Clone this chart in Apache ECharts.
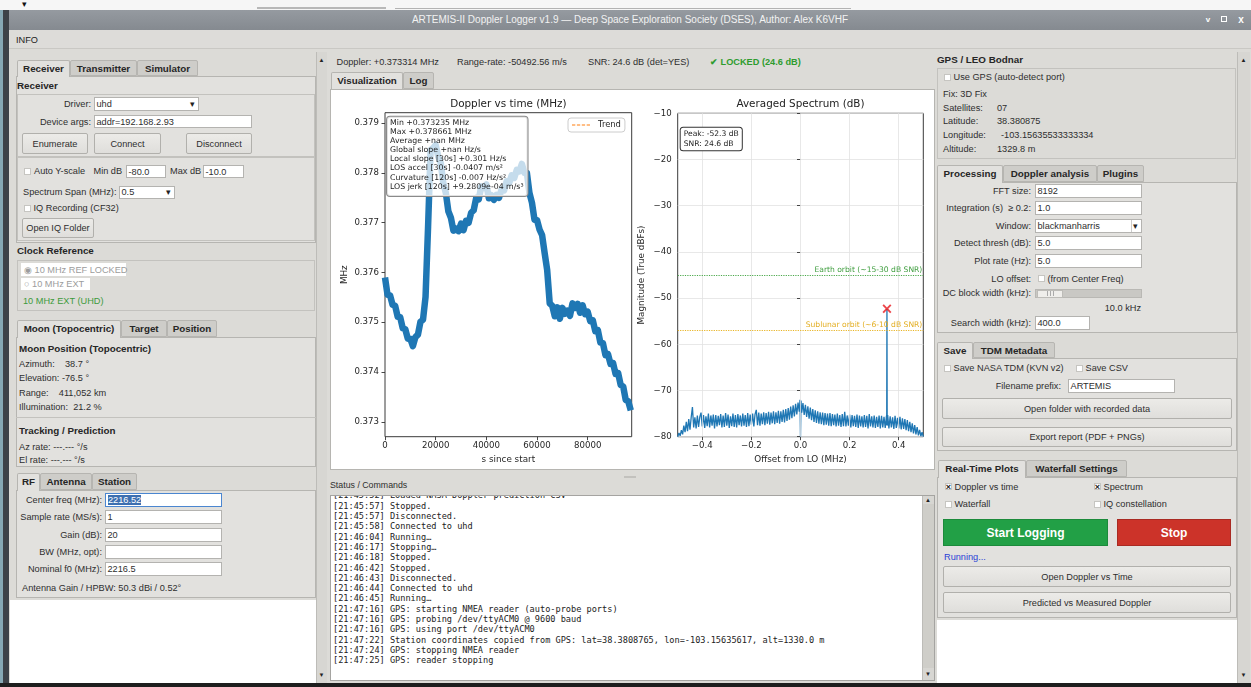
<!DOCTYPE html>
<html><head><meta charset="utf-8"><title>ARTEMIS-II Doppler Logger</title>
<script src="https://cdn.jsdelivr.net/npm/echarts@6/dist/echarts.min.js"></script>
<style>
html,body{margin:0;padding:0}
body{width:1251px;height:687px;position:relative;overflow:hidden;background:#dcdbd7;font-family:"Liberation Sans",Arial,sans-serif;font-size:9.2px;color:#2e2e2e}
.a{position:absolute;box-sizing:border-box}
.t{position:absolute;white-space:pre;line-height:12px;height:12px}
#chart{position:absolute;left:330px;top:89px;width:605px;height:381px}
#log{position:absolute;left:333px;top:496px;width:588px;height:183px;overflow:hidden;font-family:"DejaVu Sans Mono",monospace;font-size:8.6px;line-height:10.33px;color:#222;white-space:pre}
</style></head><body>
<script>
// ================= DATA =================
const dopplerTimeS = [0,1000,2000,3000,4000,5000,6000,7000,8000,9000,10000,11000,12000,13000,14000,15000,16000,17000,18000,19000,20000,21000,22000,23000,24000,25000,26000,27000,28000,29000,30000,31000,32000,33000,34000,35000,36000,37000,38000,39000,40000,41000,42000,43000,44000,45000,46000,47000,48000,49000,50000,51000,52000,53000,54000,55000,56000,57000,58000,59000,60000,61000,62000,63000,64000,65000,66000,67000,68000,69000,70000,71000,72000,73000,74000,75000,76000,77000,78000,79000,80000,81000,82000,83000,84000,85000,86000,87000,88000,89000,90000,91000,92000,93000,94000,95000,96000,97000];
const dopplerMHz = [0.37590,0.37555,0.37554,0.37535,0.37533,0.37511,0.37510,0.37488,0.37486,0.37467,0.37467,0.37452,0.37470,0.37475,0.37501,0.37505,0.37551,0.37692,0.37846,0.37850,0.37856,0.37833,0.37820,0.37780,0.37760,0.37723,0.37710,0.37684,0.37688,0.37683,0.37698,0.37685,0.37704,0.37700,0.37720,0.37725,0.37750,0.37747,0.37773,0.37770,0.37777,0.37749,0.37755,0.37746,0.37756,0.37750,0.37767,0.37765,0.37783,0.37780,0.37795,0.37790,0.37806,0.37803,0.37818,0.37800,0.37800,0.37760,0.37740,0.37706,0.37705,0.37686,0.37675,0.37639,0.37605,0.37538,0.37533,0.37512,0.37530,0.37507,0.37529,0.37517,0.37523,0.37513,0.37538,0.37529,0.37537,0.37519,0.37534,0.37516,0.37521,0.37502,0.37504,0.37482,0.37484,0.37459,0.37458,0.37434,0.37436,0.37416,0.37418,0.37396,0.37398,0.37374,0.37371,0.37344,0.37341,0.37323];
const timeTicksS = [0,20000,40000,60000,80000];
const dopplerTicksMHz = [0.373,0.374,0.375,0.376,0.377,0.378,0.379];
const spectrum = [[-0.500,-80.0],[-0.495,-79.2],[-0.490,-79.8],[-0.485,-78.6],[-0.480,-79.5],[-0.475,-77.6],[-0.470,-79.0],[-0.465,-76.8],[-0.460,-78.8],[-0.455,-76.2],[-0.450,-78.5],[-0.445,-75.8],[-0.440,-73.6],[-0.435,-78.0],[-0.430,-75.8],[-0.425,-78.2],[-0.420,-75.4],[-0.415,-77.9],[-0.410,-75.7],[-0.405,-74.8],[-0.400,-77.8],
[-0.395,-75.3],[-0.390,-78.1],[-0.385,-75.6],[-0.380,-77.7],[-0.375,-75.0],[-0.370,-78.0],[-0.365,-75.4],[-0.360,-77.6],[-0.355,-75.2],[-0.350,-78.2],[-0.345,-75.3],[-0.340,-77.8],[-0.335,-75.5],[-0.330,-77.5],[-0.325,-75.1],[-0.320,-78.0],[-0.315,-75.4],[-0.310,-77.9],[-0.305,-74.9],[-0.300,-77.6],[-0.295,-75.2],[-0.290,-78.1],[-0.285,-75.6],[-0.280,-77.7],[-0.275,-75.0],[-0.270,-77.9],[-0.265,-75.3],[-0.260,-78.0],[-0.255,-75.1],[-0.250,-77.5],[-0.245,-75.4],[-0.240,-77.8],[-0.235,-75.0],[-0.230,-77.6],[-0.225,-75.3],[-0.220,-77.9],[-0.215,-74.9],[-0.210,-77.7],[-0.205,-75.2],[-0.200,-77.4],[-0.195,-75.0],[-0.190,-77.8],[-0.185,-75.1],[-0.180,-74.2],[-0.175,-77.5],[-0.170,-74.8],[-0.165,-77.6],[-0.160,-75.0],[-0.155,-77.3],[-0.150,-74.7],[-0.145,-77.5],[-0.140,-74.9],[-0.135,-77.2],[-0.130,-74.6],[-0.125,-77.4],[-0.120,-74.8],[-0.115,-77.1],[-0.110,-74.5],[-0.105,-77.3],[-0.100,-74.7],[-0.095,-77.0],[-0.090,-74.4],[-0.085,-77.2],[-0.080,-74.5],[-0.075,-76.8],[-0.070,-74.2],[-0.065,-76.9],[-0.060,-74.0],[-0.055,-76.6],[-0.050,-73.8],[-0.045,-76.3],[-0.040,-73.5],[-0.035,-76.0],[-0.030,-73.2],[-0.025,-75.6],[-0.020,-72.9],[-0.015,-75.2],[-0.010,-72.6],[-0.005,-74.6],[-0.002,-72.0],[0.000,-80.0],[0.002,-72.2],[0.005,-74.8],[0.010,-72.7],[0.015,-75.3],[0.020,-73.1],[0.025,-75.7],[0.030,-73.4],[0.035,-76.1],[0.040,-73.7],[0.045,-76.4],[0.050,-74.0],[0.055,-76.8],[0.060,-74.3],[0.065,-77.0],[0.070,-74.5],[0.075,-77.2],[0.080,-74.7],[0.085,-77.3],[0.090,-74.8],[0.095,-77.5],[0.100,-74.9],[0.105,-77.4],[0.110,-75.0],[0.115,-77.6],[0.120,-74.9],[0.125,-77.7],[0.130,-75.1],[0.135,-77.5],[0.140,-75.2],[0.145,-77.8],[0.150,-75.0],[0.155,-77.6],[0.160,-75.3],[0.165,-77.9],[0.170,-75.1],[0.175,-77.7],[0.180,-74.6],[0.185,-77.8],[0.190,-75.4],[0.195,-77.6],[0.200,-75.2],[0.205,-78.0],[0.210,-75.3],[0.215,-77.7],[0.220,-75.5],[0.225,-77.9],[0.230,-75.2],[0.235,-78.1],[0.240,-75.4],[0.245,-77.8],[0.250,-75.6],[0.255,-78.0],[0.260,-75.3],[0.265,-77.9],[0.270,-75.5],[0.275,-78.2],[0.280,-75.1],[0.285,-77.8],[0.290,-75.6],[0.295,-78.0],[0.300,-75.4],[0.305,-78.1],[0.310,-75.7],[0.315,-77.9],[0.320,-75.4],[0.325,-78.2],[0.330,-75.5],[0.335,-78.0],[0.340,-75.7],[0.345,-78.1],[0.350,-75.5],[0.351,-77.5],[0.352,-52.3],[0.353,-77.6],[0.355,-75.3],[0.360,-78.2],[0.365,-75.6],[0.370,-78.0],[0.375,-75.8],[0.380,-78.3],[0.385,-75.5],[0.390,-78.1],[0.395,-75.9],[0.400,-78.2],[0.405,-75.7],[0.410,-78.4],[0.415,-76.0],[0.420,-78.3],[0.425,-76.2],[0.430,-78.6],[0.435,-76.4],[0.440,-78.8],[0.445,-76.8],[0.450,-79.0],[0.455,-77.1],[0.460,-79.3],[0.465,-77.5],[0.470,-79.5],[0.475,-77.9],[0.480,-79.7],[0.485,-78.5],[0.490,-79.9],[0.495,-79.0],[0.500,-80.0]];
const offsetTicksMHz = [-0.4,-0.2,0,0.2,0.4];
const peakOffsetMHz = 0.352;
const peakDb = -52.3;
const snrDb = 24.6;
const earthOrbitDb = -45;
const sublunarOrbitDb = -57;
const statsLines = ["Min +0.373235 MHz","Max +0.378661 MHz","Average +nan MHz","Global slope +nan Hz/s","Local slope [30s] +0.301 Hz/s","LOS accel [30s] -0.0407 m/s²","Curvature [120s] -0.007 Hz/s²","LOS jerk [120s] +9.2809e-04 m/s³"];
const logLines = ["[21:45:52] Loaded NASA Doppler prediction CSV","[21:45:57] Stopped.","[21:45:57] Disconnected.","[21:45:58] Connected to uhd","[21:46:04] Running…","[21:46:17] Stopping…","[21:46:18] Stopped.","[21:46:42] Stopped.","[21:46:43] Disconnected.","[21:46:44] Connected to uhd","[21:46:45] Running…","[21:47:16] GPS: starting NMEA reader (auto-probe ports)","[21:47:16] GPS: probing /dev/ttyACM0 @ 9600 baud","[21:47:16] GPS: using port /dev/ttyACM0","[21:47:22] Station coordinates copied from GPS: lat=38.3808765, lon=-103.15635617, alt=1330.0 m","[21:47:24] GPS: stopping NMEA reader","[21:47:25] GPS: reader stopping"];

// ================= GUI (HTML) =================
const W = 1251;
function el(cls, css, text){ const d=document.createElement('div'); d.className=cls; d.style.cssText=css; if(text!=null) d.textContent=text; document.body.appendChild(d); return d; }
function rect(x,y,w,h,css){ return el('a',`left:${x}px;top:${y}px;width:${w}px;height:${h}px;`+(css&&css[0]==='#'?'background:'+css:(css||''))); }
function txt(x,cy,s,css){ return el('t',`left:${x}px;top:${cy-6}px;`+(css||''),s); }
function txtR(xr,cy,s,css){ return el('t',`right:${W-xr}px;top:${cy-6}px;`+(css||''),s); }
function txtC(xc,cy,s,css){ return el('t',`left:${xc}px;top:${cy-6}px;transform:translateX(-50%);`+(css||''),s); }
const B='font-weight:bold;font-size:9.8px;color:#262626;';
function input(x,y,w,h,s,css){ rect(x,y,w,h,'background:#fff;border:1px solid #b4b3b0;'+(css||'')); if(s) txt(x+2.5,y+h/2,s); }
function button(x,y,w,h,s){ rect(x,y,w,h,'background:linear-gradient(#ecebe8,#dfdedb);border:1px solid #b1b0ac;border-radius:2px;'); txtC(x+w/2,y+h/2,s); }
function pane(x,y,w,h){ rect(x,y,w,h,'background:#e2e1de;border:1px solid #b6b5b1;'); }
function frame(x,y,w,h){ rect(x,y,w,h,'border:1px solid #c3c2be;'); }
function tab(x,y,w,h,s,sel){
  rect(x,y,w,h+(sel?1:0), sel?'background:#e2e1de;border:1px solid #b6b5b1;border-bottom:none;border-radius:2px 2px 0 0;'
                            :'background:#cecdc9;border:1px solid #b6b5b1;border-radius:2px 2px 0 0;');
  txtC(x+w/2,y+h/2+0.5,s,B);
}
function check(x,cy,on){ rect(x,cy-3.5,7,7,'background:#fff;border:1px solid #c6c5c1;'); if(on) txtC(x+3.5,cy,'×','font-weight:bold;font-size:9px;color:#222;'); }
function combo(x,y,w,h,s,sep){ input(x,y,w,h,s); if(sep) rect(x+w-11,y+1,1,h-2,'#ccc'); txt(x+w-9,y+h/2,'▾','font-size:9px;color:#222;'); }
function vbar(x,y,w,h){ rect(x,y,w,h,'background:#d7d6d2;border-left:1px solid #bdbcb8;'); }
function arrow(xc,cy,s){ txtC(xc,cy,s,'font-size:6px;color:#222;'); }

// top strip, desktop edges, title bar, menu
rect(0,0,W,10,'#f6f6f6');
rect(257,7,129,2,'#b8b8b8'); rect(395,8,456,1,'#b3b3b3');
txt(22,4,'▾','font-size:9px;color:#111;');
rect(0,10,3,677,'#86a8b4'); rect(3,10,6,677,'#3d4248');
rect(9,10,W-9,20,'background:linear-gradient(#959aa0,#858a90);');
txtC(630,20,'ARTEMIS-II Doppler Logger v1.9 — Deep Space Exploration Society (DSES), Author: Alex K6VHF','color:#f2f2f2;font-size:10px;');
txtC(1208,19.5,'v','color:#fff;font-size:8px;font-weight:bold;');
rect(1221,16,6,6,'border:1.5px solid #fff;');
txtC(1241,19.5,'x','color:#fff;font-size:10px;font-weight:bold;');
rect(9,30,W-9,19,'background:#dddcd9;border-bottom:1px solid #c9c8c4;');
txt(16,39.5,'INFO','color:#222;');
rect(0,683,W,4,'#1e1e1e');

// ----- left column -----
pane(16,75.7,300,167);
tab(17,60,53,16,'Receiver',true); tab(70,60,67,16,'Transmitter'); tab(137,60,61,16,'Simulator');
txt(17,86,'Receiver',B);
frame(17,94,298,63);
txtR(91,104,'Driver:'); combo(94,97,105,14,'uhd');
txtR(91,121.5,'Device args:'); input(94,115,158,13,'addr=192.168.2.93');
button(22,133,66,21,'Enumerate'); button(94,133,67,21,'Connect'); button(186,133,66,21,'Disconnect');
frame(17,157,298,84);
check(24,171); txt(34,171,'Auto Y-scale'); txt(93.5,171,'Min dB'); input(126,165,40,13,'-80.0'); txt(170,171,'Max dB'); input(203,165,41,13,'-10.0');
txt(23,192,'Spectrum Span (MHz):'); combo(119,185.5,56,13,'0.5');
check(24,208); txt(33.5,208,'IQ Recording (CF32)');
button(22,218,72,20,'Open IQ Folder');
txt(17,251,'Clock Reference',B);
frame(17,260,298,51);
rect(21,263,105,13,'#fff'); txt(24,269.5,'◉ 10 MHz REF LOCKED','color:#9c9c9c;');
rect(21,278,69,12,'#fff'); txt(24,284,'○ 10 MHz EXT','color:#9c9c9c;');
txt(23,301,'10 MHz EXT (UHD)','color:#3c9a3c;');

pane(16,336.7,300,130);
tab(17,320,104,17,'Moon (Topocentric)',true); tab(121,320,46,17,'Target'); tab(167,320,50,17,'Position');
txt(19,349,'Moon Position (Topocentric)',B);
txt(19,363.5,'Azimuth:    38.7 °');
txt(19,378,'Elevation: -76.5 °');
txt(19,392.5,'Range:    411,052 km');
txt(19,406.5,'Illumination:  21.2 %');
rect(16,417,300,1,'#c3c2be');
txt(19,431,'Tracking / Prediction',B);
txt(19,447,'Az rate: ---.--- °/s'); txt(19,460,'El rate: ---.--- °/s');

pane(16,490,300,108);
tab(17,473,23,17,'RF',true); tab(40,473,52,17,'Antenna'); tab(92,473,45,17,'Station');
rect(105,492.5,117,14,'background:#fff;border:1px solid #4b86d0;');
rect(107.5,494.5,33,10,'#3d6fb0'); txt(108,499.5,'2216.52','color:#fff;');
txtR(102,499.5,'Center freq (MHz):');
txtR(102,517,'Sample rate (MS/s):'); input(105,510,117,14,'1');
txtR(102,534.5,'Gain (dB):'); input(105,527.5,117,14,'20');
txtR(102,552,'BW (MHz, opt):'); input(105,545,117,14,'');
txtR(102,569,'Nominal f0 (MHz):'); input(105,562,117,14,'2216.5');
txt(22,588,'Antenna Gain / HPBW: 50.3 dBi / 0.52°');
rect(10,600,306,83,'#fff');
vbar(316,52,11,631); arrow(321.5,60,'▲'); arrow(321.5,675,'▼');

// ----- middle column -----
txt(336.5,62,'Doppler: +0.373314 MHz'); txt(457,62,'Range-rate: -50492.56 m/s'); txt(588,62,'SNR: 24.6 dB (det=YES)');
txt(710,62,'✔ LOCKED (24.6 dB)','color:#2e9c2e;font-weight:bold;');
tab(331,72,72,17,'Visualization',true); tab(403,72,31,17,'Log');
rect(330,89,605,381,'background:#fff;border:1px solid #b6b5b1;');
rect(624,476,12,2,'#c2c1bd');
txt(330,485,'Status / Commands','font-size:8.8px;');
rect(330,495,605,186,'background:#fff;border:1px solid #a5a4a1;');
vbar(922,496,12,184); rect(923,504,11,164,'#cfcec9'); arrow(928,500,'▲'); arrow(928,674,'▼');
const log = el('a','',null); log.id='log';
const inner = document.createElement('div'); inner.style.marginTop='-5.8px'; inner.textContent = logLines.join('\n'); log.appendChild(inner);

// ----- right column -----
txt(937,60,'GPS / LEO Bodnar',B);
frame(937,68,299,91);
check(944,77); txt(953.5,77,'Use GPS (auto-detect port)');
txt(943,94,'Fix: 3D Fix');
txt(943,107.5,'Satellites:'); txt(997,107.5,'07');
txt(943,121,'Latitude:'); txt(997,121,'38.380875');
txt(943,135,'Longitude:'); txt(1001,135,'-103.15635533333334');
txt(943,149,'Altitude:'); txt(997,149,'1329.8 m');

pane(937,182,300,151);
tab(937,165,66,17,'Processing',true); tab(1003,165,94,17,'Doppler analysis'); tab(1097,165,47,17,'Plugins');
txtR(1031,191,'FFT size:'); input(1035,184,107,14,'8192');
txtR(1031,208,'Integration (s)  ≥ 0.2:'); input(1035,201,107,14,'1.0');
txtR(1031,225.7,'Window:'); combo(1035,218.7,107,14,'blackmanharris',true);
txtR(1031,243,'Detect thresh (dB):'); input(1035,236,107,14,'5.0');
txtR(1031,260.7,'Plot rate (Hz):'); input(1035,253.7,107,14,'5.0');
txtR(1031,278.7,'LO offset:'); check(1038,278.7); txt(1047.5,278.7,'(from Center Freq)');
txtR(1031,293.3,'DC block width (kHz):'); rect(1035,289,107,9,'background:#c9c8c4;border:1px solid #b9b8b4;');
rect(1037,289.5,26,8,'background:#efeeeb;border:1px solid #bdbcb8;'); rect(1047,291,1,5,'#aaa'); rect(1050,291,1,5,'#aaa'); rect(1053,291,1,5,'#aaa');
txtR(1141,307.7,'10.0 kHz');
txtR(1031,322.7,'Search width (kHz):'); input(1035,316,55,14,'400.0');

pane(937,358,300,93);
tab(937,342,36,16,'Save',true); tab(973,342,82,16,'TDM Metadata');
check(944,368); txt(953.5,368,'Save NASA TDM (KVN v2)'); check(1076,368); txt(1085.5,368,'Save CSV');
txtR(1061,385.7,'Filename prefix:'); input(1068,379,107,14,'ARTEMIS');
button(942,398,290,21,'Open folder with recorded data'); button(942,427,290,20,'Export report (PDF + PNGs)');

pane(937,477,300,141);
tab(938,460,88,17,'Real-Time Plots',true); tab(1026,460,101,17,'Waterfall Settings');
check(945,486.7,true); txt(954.5,486.7,'Doppler vs time'); check(1094,486.7,true); txt(1103.5,486.7,'Spectrum');
check(945,504); txt(954.5,504,'Waterfall'); check(1094,504); txt(1103.5,504,'IQ constellation');
rect(943,519,165,27,'background:#22a046;border:1px solid #1c8a3b;'); txtC(1025.5,532.5,'Start Logging','color:#fff;font-weight:bold;font-size:12px;');
rect(1117,519,114,27,'background:#cc3329;border:1px solid #a92a22;'); txtC(1174,532.5,'Stop','color:#fff;font-weight:bold;font-size:12px;');
txt(944,557,'Running...','color:#2b3fd6;');
button(943,566,288,21,'Open Doppler vs Time'); button(943,592,288,21,'Predicted vs Measured Doppler');
rect(937,620,300,63,'#fff');
vbar(1237,52,13,631); arrow(1243.5,60,'▲'); arrow(1243.5,675,'▼');

// ================= CHARTS (ECharts) =================
const cd = el('a','',null); cd.id='chart';
const chart = echarts.init(cd, null, {renderer:'canvas'});
const FF = 'DejaVu Sans';
const TXT = '#262626';
const minus = v => (v<0?'\u2212':'') + Math.abs(v);
const tickStyle = {show:true, inside:false, length:3.5, lineStyle:{color:'#333', width:0.9}};
const lbl = (extra) => Object.assign({color:TXT, fontFamily:FF, fontSize:8.6}, extra);
const nameStyle = {color:TXT, fontFamily:FF, fontSize:8.8};
const gridLine = {color:'#e2e2e2', width:0.8, type:'solid'};

const G1 = {left:55, top:23.7, width:246.7, height:324};
const G2 = {left:347.7, top:24.3, width:245.6, height:323.4};

chart.setOption({
  animation:false,
  grid:[
    Object.assign({show:true, borderColor:'#3a3a3a', borderWidth:1, backgroundColor:'transparent', containLabel:false}, G1),
    Object.assign({show:true, borderColor:'#3a3a3a', borderWidth:1, backgroundColor:'transparent', containLabel:false}, G2)
  ],
  xAxis:[
    {type:'value', gridIndex:0, min:0, max:97360, axisLine:{show:false},
     axisTick:Object.assign({customValues:timeTicksS}, tickStyle),
     axisLabel:lbl({customValues:timeTicksS, margin:5, formatter:v=>String(Math.round(v))}),
     splitLine:{show:false}, name:'s since start', nameLocation:'middle', nameGap:16, nameTextStyle:nameStyle},
    {type:'value', gridIndex:1, min:-0.5, max:0.5, axisLine:{show:false},
     axisTick:Object.assign({customValues:offsetTicksMHz}, tickStyle),
     axisLabel:lbl({customValues:offsetTicksMHz, margin:5, formatter:v=>(v<0?'\u2212':'')+Math.abs(v).toFixed(1)}),
     splitLine:{show:false},
     name:'Offset from LO (MHz)', nameLocation:'middle', nameGap:16, nameTextStyle:nameStyle}
  ],
  yAxis:[
    {type:'value', gridIndex:0, min:0.3727, max:0.37921, axisLine:{show:false},
     axisTick:Object.assign({customValues:dopplerTicksMHz}, tickStyle),
     axisLabel:lbl({customValues:dopplerTicksMHz, margin:6, formatter:v=>v.toFixed(3)}),
     splitLine:{show:false}, name:'MHz', nameLocation:'middle', nameGap:36, nameTextStyle:nameStyle},
    {type:'value', gridIndex:1, min:-80, max:-10, interval:10, axisLine:{show:false},
     axisTick:tickStyle,
     axisLabel:lbl({margin:6, formatter:v=>minus(v)}),
     splitLine:{show:true, lineStyle:gridLine},
     name:'Magnitude (True dBFs)', nameLocation:'middle', nameGap:31, nameTextStyle:nameStyle}
  ],
  legend:{data:[{name:'Trend', icon:'path://M0,0H3.4V1H0Z M5,0H8.4V1H5Z M10,0H13.4V1H10Z M15,0H18.4V1H15Z'}],
    left:238, top:29, itemWidth:18, itemHeight:1.4, itemGap:6, padding:[3,4,3,4],
    borderColor:'#cccccc', borderWidth:1, borderRadius:3, backgroundColor:'rgba(255,255,255,0.85)',
    textStyle:{fontSize:8.4, fontFamily:FF, color:TXT, padding:[0,0,0,3]}, selectedMode:false},
  series:[
    {type:'line', name:'gridX', xAxisIndex:1, yAxisIndex:1, data:[], symbol:'none', silent:true, z:1,
     markLine:{silent:true, symbol:['none','none'], animation:false, label:{show:false}, lineStyle:gridLine,
       data:offsetTicksMHz.map(v=>({xAxis:v}))}},
    {type:'line', name:'Doppler', xAxisIndex:0, yAxisIndex:0, symbol:'none', silent:true,
     data:dopplerTimeS.map((t,i)=>[t, dopplerMHz[i]]),
     lineStyle:{color:'#1f77b4', width:6.5, join:'round'}, itemStyle:{color:'#1f77b4'}, z:2},
    {type:'line', name:'Trend', xAxisIndex:0, yAxisIndex:0, symbol:'none', data:[],
     lineStyle:{color:'#ff7f0e', width:1.3, type:'dashed'}, itemStyle:{color:'#ff7f0e'}},
    {type:'line', name:'Spectrum', xAxisIndex:1, yAxisIndex:1, symbol:'none', silent:true, data:spectrum,
     lineStyle:{color:'#1f77b4', width:1.3}, itemStyle:{color:'#1f77b4'}, z:2,
     markLine:{silent:true, symbol:['none','none'], animation:false,
       data:[
         {yAxis:earthOrbitDb, lineStyle:{color:'#4aa84a', type:'dotted', width:1.2},
          label:{show:true, position:'insideEndTop', distance:1, formatter:'Earth orbit (~15-30 dB SNR)', color:'#3f9e3f', fontSize:7.6, fontFamily:FF}},
         {yAxis:sublunarOrbitDb, lineStyle:{color:'#e8b425', type:'dotted', width:1.2},
          label:{show:true, position:'insideEndTop', distance:1, formatter:'Sublunar orbit (~6-10 dB SNR)', color:'#e3ae22', fontSize:7.6, fontFamily:FF}}
       ]}},
    {type:'scatter', name:'Peak', xAxisIndex:1, yAxisIndex:1, data:[[peakOffsetMHz, peakDb]], silent:true,
     symbol:'path://M0,1.5L1.5,0L5,3.5L8.5,0L10,1.5L6.5,5L10,8.5L8.5,10L5,6.5L1.5,10L0,8.5L3.5,5Z', symbolSize:9,
     itemStyle:{color:'#e8161b'}, z:5}
  ],
  graphic:[
    {type:'text', x:G1.left+G1.width/2, y:15.3, z:100, style:{text:'Doppler vs time (MHz)', font:'10.4px "DejaVu Sans"', fill:'#222', align:'center', verticalAlign:'middle'}},
    {type:'text', x:G2.left+G2.width/2, y:15.3, z:100, style:{text:'Averaged Spectrum (dB)', font:'10.4px "DejaVu Sans"', fill:'#222', align:'center', verticalAlign:'middle'}},
    {type:'text', x:57, y:27.7, z:100, style:{text:statsLines.join('\n'), font:'7.8px "DejaVu Sans"', fill:'#222', lineHeight:9.05,
      backgroundColor:'rgba(255,255,255,0.74)', borderColor:'#8a8a8a', borderWidth:1, borderRadius:3, padding:[2,4,5,3]}},
    {type:'text', x:350.7, y:38.7, z:100, style:{text:'Peak: ' + peakDb.toFixed(1) + ' dB\nSNR: ' + snrDb.toFixed(1) + ' dB', font:'7.6px "DejaVu Sans"', fill:'#222', lineHeight:10.3,
      backgroundColor:'#fff', borderColor:'#333', borderWidth:1, borderRadius:2.5, padding:[1,3,1,3]}}
  ]
});
</script>
</body></html>
